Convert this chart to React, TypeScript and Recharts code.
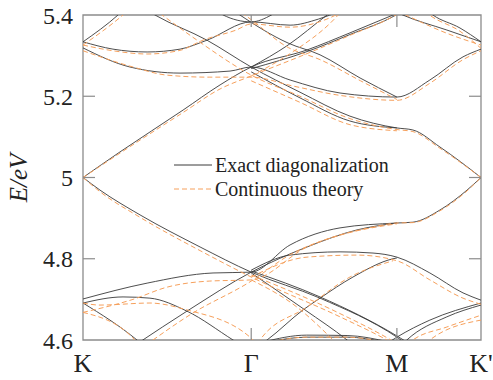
import { LineChart, Line, XAxis, YAxis, Label, ReferenceArea, ReferenceLine } from "recharts";

// path K - Γ - M - K' in units of |KΓ|
const K_TICKS = [0, 1, 1.866, 2.366];
const K_LABELS = ["K", "Γ", "M", "K'"];
const E_TICKS = [4.6, 4.8, 5, 5.2, 5.4];

// exact diagonalization bands, [k, E]
const ed1 = [[0, 5.334], [0.208, 5.4], [0.26, 5.42]];
const ed2 = [[0, 5.334], [0.178, 5.316], [0.381, 5.309], [0.577, 5.316], [0.737, 5.338], [1.0, 5.383], [1.231, 5.375], [1.4, 5.39], [1.53, 5.41]];
const ed3 = [[0.33, 5.425], [0.428, 5.4], [0.737, 5.338], [1.0, 5.272], [1.29, 5.21], [1.587, 5.151], [1.866, 5.122], [1.961, 5.117], [2.122, 5.075], [2.366, 5.0]];
const ed4 = [[0, 5.319], [0.279, 5.272], [0.577, 5.257], [0.874, 5.262], [1.0, 5.272], [1.231, 5.24], [1.528, 5.208], [1.866, 5.198], [2.062, 5.24], [2.259, 5.297], [2.366, 5.316]];
const ed5 = [[0, 5.0], [0.22, 5.063], [0.595, 5.166], [0.815, 5.228], [1.0, 5.272], [1.332, 5.314], [1.587, 5.356], [1.843, 5.4], [1.9, 5.41]];
const ed6 = [[1.0, 5.268], [1.332, 5.31], [1.587, 5.352], [1.86, 5.4], [1.9, 5.41]];
const ed7 = [[1.0, 5.272], [1.219, 5.326], [1.451, 5.4], [1.5, 5.415]];
const ed8 = [[0.88, 5.415], [0.933, 5.4], [1.219, 5.331], [1.409, 5.302], [1.647, 5.245], [1.866, 5.198]];
const ed9 = [[1.0, 5.26], [1.29, 5.196], [1.587, 5.139], [1.866, 5.122]];
const ed10 = [[0.8, 5.41], [0.833, 5.4], [1.0, 5.383], [1.12, 5.4], [1.16, 5.41]];
const ed11 = [[0, 5.0], [0.101, 4.969], [0.339, 4.908], [0.696, 4.829], [1.0, 4.767], [1.409, 4.703], [1.866, 4.607], [1.925, 4.59]];
const ed12 = [[1.0, 4.77], [1.409, 4.706], [1.866, 4.61], [1.925, 4.595]];
const ed13 = [[0, 4.701], [0.381, 4.74], [0.773, 4.765], [1.0, 4.767], [1.231, 4.834], [1.528, 4.876], [1.866, 4.888], [1.961, 4.89], [2.122, 4.92], [2.283, 4.969], [2.366, 5.0]];
const ed14 = [[0.33, 4.593], [0.618, 4.671], [1.0, 4.767], [1.332, 4.829], [1.629, 4.871], [1.866, 4.888]];
const ed15 = [[1.0, 4.772], [1.231, 4.809], [1.528, 4.817], [1.724, 4.814], [1.866, 4.804], [2.062, 4.765], [2.259, 4.716], [2.366, 4.698]];
const ed16 = [[1.06, 4.59], [1.094, 4.6], [1.308, 4.674], [1.409, 4.703], [1.605, 4.755], [1.843, 4.8], [1.866, 4.802]];
const ed17 = [[1.0, 4.765], [1.32, 4.674], [1.57, 4.6], [1.6, 4.59]];
const ed18 = [[1.07, 4.595], [1.33, 4.612], [1.57, 4.611], [1.82, 4.595]];
const ed19 = [[1.1, 4.595], [1.33, 4.607], [1.57, 4.607], [1.79, 4.595]];
const ed20 = [[1.82, 4.595], [1.866, 4.607], [2.062, 4.649], [2.366, 4.691]];
const ed21 = [[1.9, 4.59], [1.925, 4.6], [2.163, 4.657], [2.366, 4.686]];
const ed22 = [[0, 4.691], [0.238, 4.706], [0.398, 4.703], [0.618, 4.671], [0.892, 4.6], [0.95, 4.585]];
const ed23 = [[0, 4.691], [0.321, 4.6], [0.35, 4.59]];
const ed24 = [[1.8, 5.42], [1.901, 5.4], [2.163, 5.363], [2.366, 5.334]];
const ed25 = [[2.02, 5.42], [2.08, 5.4], [2.241, 5.368], [2.366, 5.334]];

// continuous theory bands, [k, E]
const ct1 = [[0, 5.326], [0.238, 5.4], [0.28, 5.415]];
const ct2 = [[0, 5.326], [0.178, 5.312], [0.381, 5.304], [0.577, 5.313], [0.713, 5.338], [0.911, 5.363], [1.0, 5.378], [1.231, 5.37], [1.45, 5.39], [1.55, 5.41]];
const ct3 = [[0.42, 5.415], [0.47, 5.4], [0.678, 5.338], [1.0, 5.252], [1.29, 5.2], [1.587, 5.145], [1.866, 5.118], [1.961, 5.113], [2.122, 5.072], [2.366, 5.0]];
const ct4 = [[0, 5.312], [0.297, 5.272], [0.499, 5.252], [0.75, 5.247], [1.0, 5.247], [1.25, 5.225], [1.53, 5.202], [1.866, 5.19], [2.062, 5.232], [2.259, 5.29], [2.366, 5.312]];
const ct5 = [[0, 5.0], [0.22, 5.06], [0.595, 5.16], [0.815, 5.218], [1.0, 5.25], [1.332, 5.305], [1.587, 5.35], [1.86, 5.4], [1.9, 5.41]];
const ct6 = [[1.0, 5.25], [1.25, 5.31], [1.47, 5.38], [1.54, 5.41]];
const ct7 = [[0.9, 5.415], [0.96, 5.4], [1.22, 5.32], [1.41, 5.29], [1.65, 5.238], [1.866, 5.192]];
const ct8 = [[1.0, 5.238], [1.29, 5.185], [1.587, 5.13], [1.866, 5.115]];
const ct9 = [[0, 5.0], [0.101, 4.965], [0.339, 4.902], [0.696, 4.82], [1.0, 4.755], [1.528, 4.657], [1.807, 4.6], [1.85, 4.59]];
const ct10 = [[0, 4.668], [0.297, 4.7], [0.499, 4.73], [0.75, 4.745], [1.0, 4.748], [1.332, 4.829], [1.724, 4.878], [1.866, 4.888], [1.961, 4.889], [2.122, 4.918], [2.283, 4.967], [2.366, 5.0]];
const ct11 = [[0.416, 4.6], [0.636, 4.662], [1.0, 4.745], [1.231, 4.81], [1.528, 4.858], [1.866, 4.886]];
const ct12 = [[0, 4.691], [0.101, 4.686], [0.398, 4.691], [0.618, 4.674], [0.993, 4.607], [1.03, 4.59]];
const ct13 = [[0, 4.668], [0.297, 4.605], [0.32, 4.59]];
const ct14 = [[1.0, 4.755], [1.332, 4.804], [1.629, 4.809], [1.866, 4.795], [2.062, 4.748], [2.259, 4.703], [2.366, 4.688]];
const ct15 = [[1.04, 4.59], [1.052, 4.6], [1.332, 4.681], [1.587, 4.755], [1.843, 4.795]];
const ct16 = [[1.0, 4.748], [1.272, 4.681], [1.486, 4.6], [1.51, 4.59]];
const ct17 = [[1.07, 4.59], [1.33, 4.607], [1.57, 4.607], [1.83, 4.59]];
const ct18 = [[1.93, 4.59], [1.961, 4.6], [2.163, 4.632], [2.366, 4.661]];
const ct19 = [[2.04, 4.59], [2.062, 4.6], [2.366, 4.649]];
const ct20 = [[1.87, 5.41], [1.92, 5.4], [2.163, 5.355], [2.366, 5.326]];
const ct21 = [[2.03, 5.41], [2.06, 5.4], [2.241, 5.36], [2.366, 5.318]];
const ct22 = [[1.0, 4.76], [1.528, 4.665], [1.83, 4.6], [1.87, 4.59]];

const exactBands = [ed1, ed2, ed3, ed4, ed5, ed6, ed7, ed8, ed9, ed10, ed11, ed12, ed13, ed14, ed15, ed16, ed17, ed18, ed19, ed20, ed21, ed22, ed23, ed24, ed25];
const theoryBands = [ct1, ct2, ct3, ct4, ct5, ct6, ct7, ct8, ct9, ct10, ct11, ct12, ct13, ct14, ct15, ct16, ct17, ct18, ct19, ct20, ct21, ct22];

const BLACK = "#3a3a3a";
const ORANGE = "#f6a05c";
const AXIS = "#8c8c8c";
const FONT = "'Liberation Serif', 'Times New Roman', serif";

// inward tick length, 12px expressed in data units
const TICK_K = 12 / 168;
const TICK_E = 12 / 406;

const toRows = (band: number[][]) => band.map(([k, e]) => ({ k, e }));

export default function App() {
  const k0 = K_TICKS[0];
  const k1 = K_TICKS[K_TICKS.length - 1];
  const e0 = E_TICKS[0];
  const e1 = E_TICKS[E_TICKS.length - 1];
  const innerE = E_TICKS.slice(1, -1);
  const innerK = K_TICKS.slice(1, -1);

  return (
    <div style={{ position: "absolute", left: 0, top: 0, width: 493, height: 380, background: "#fff" }}>
      <LineChart width={493} height={380} margin={{ top: 15, right: 12, bottom: 10, left: 23 }}>
        <XAxis
          xAxisId="k" type="number" dataKey="k" domain={[k0, k1]} ticks={K_TICKS}
          allowDataOverflow height={30} tickSize={0} tickMargin={14} axisLine={false} tickLine={false}
          tickFormatter={(v: number) => K_LABELS[K_TICKS.indexOf(v)]}
          tick={{ fontFamily: FONT, fontSize: 26, fill: "#222" }}
        />
        <YAxis
          yAxisId="e" type="number" domain={[e0, e1]} ticks={E_TICKS} allowDataOverflow
          width={60} tickSize={0} tickMargin={10} axisLine={false} tickLine={false}
          tick={{ fontFamily: FONT, fontSize: 24, fill: "#222" }}
        >
          <Label
            content={() => (
              <text
                x={27} y={178} textAnchor="middle" transform="rotate(-90, 27, 178)"
                fontFamily={FONT} fontStyle="italic" fontSize={25} fill="#222"
              >
                E/eV
              </text>
            )}
          />
        </YAxis>
        {exactBands.map((band, i) => (
          <Line
            key={`ed-${i}`} xAxisId="k" yAxisId="e" data={toRows(band)} dataKey="e"
            type="monotone" stroke={BLACK} strokeWidth={0.9} dot={false} activeDot={false}
            isAnimationActive={false}
          />
        ))}
        {theoryBands.map((band, i) => (
          <Line
            key={`ct-${i}`} xAxisId="k" yAxisId="e" data={toRows(band)} dataKey="e"
            type="monotone" stroke={ORANGE} strokeWidth={1} strokeDasharray="5 3" dot={false}
            activeDot={false} isAnimationActive={false}
          />
        ))}
        <ReferenceArea
          xAxisId="k" yAxisId="e" x1={k0} x2={k1} y1={e0} y2={e1}
          fill="none" fillOpacity={0} stroke={AXIS} strokeWidth={1.3}
        />
        {innerE.map((e) => (
          <ReferenceLine
            key={`yl-${e}`} xAxisId="k" yAxisId="e" stroke={AXIS} strokeWidth={1.2}
            segment={[{ x: k0, y: e }, { x: k0 + TICK_K, y: e }]}
          />
        ))}
        {innerE.map((e) => (
          <ReferenceLine
            key={`yr-${e}`} xAxisId="k" yAxisId="e" stroke={AXIS} strokeWidth={1.2}
            segment={[{ x: k1 - TICK_K, y: e }, { x: k1, y: e }]}
          />
        ))}
        {innerK.map((k) => (
          <ReferenceLine
            key={`xb-${k}`} xAxisId="k" yAxisId="e" stroke={AXIS} strokeWidth={1.2}
            segment={[{ x: k, y: e0 }, { x: k, y: e0 + TICK_E }]}
          />
        ))}
        {innerK.map((k) => (
          <ReferenceLine
            key={`xt-${k}`} xAxisId="k" yAxisId="e" stroke={AXIS} strokeWidth={1.2}
            segment={[{ x: k, y: e1 - TICK_E }, { x: k, y: e1 }]}
          />
        ))}
      </LineChart>
      <svg width={493} height={380} style={{ position: "absolute", left: 0, top: 0, pointerEvents: "none" }}>
        <line x1={174} x2={212} y1={165} y2={165} stroke={BLACK} strokeWidth={1} />
        <text x={215} y={172} fontFamily={FONT} fontSize={20} fill="#222">Exact diagonalization</text>
        <line x1={174} x2={212} y1={189} y2={189} stroke={ORANGE} strokeWidth={1} strokeDasharray="5 3" />
        <text x={215} y={196} fontFamily={FONT} fontSize={20} fill="#222">Continuous theory</text>
      </svg>
    </div>
  );
}
